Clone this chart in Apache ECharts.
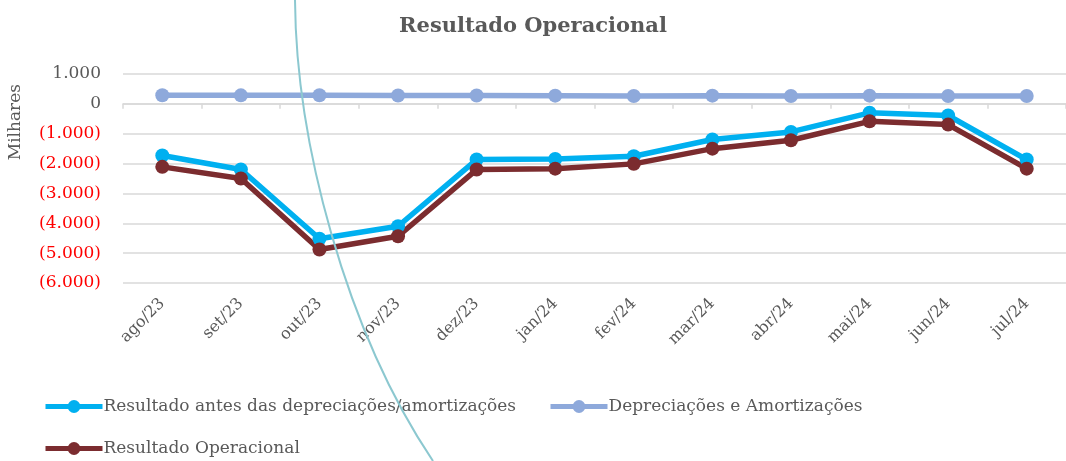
<!DOCTYPE html>
<html>
<head>
<meta charset="utf-8">
<script src="https://cdn.jsdelivr.net/npm/echarts@6/dist/echarts.min.js"></script>
<style>
html,body{margin:0;padding:0;background:#fff;}
#chart{width:1066px;height:461px;}
</style>
</head>
<body>
<div id="chart"></div>
<script>
var categories = ['ago/23','set/23','out/23','nov/23','dez/23','jan/24','fev/24','mar/24','abr/24','mai/24','jun/24','jul/24'];
var antesDepreciacoes = [-1730, -2200, -4520, -4100, -1865, -1845, -1755, -1195, -940, -300, -390, -1865];
var depreciacoes = [290, 285, 290, 280, 280, 275, 265, 275, 265, 275, 265, 265];
var resultadoOperacional = [-2110, -2500, -4880, -4435, -2200, -2170, -2010, -1500, -1220, -585, -695, -2170];
var yTicks = {min: -6000, max: 1000, interval: 1000};

var names = ['Resultado antes das depreciações/amortizações', 'Depreciações e Amortizações', 'Resultado Operacional'];
var colors = ['#00B0F0', '#8EA9DB', '#7B2C2F'];
var serifFont = '"DejaVu Serif", "Liberation Serif", serif';
var gray = '#595959';

function fmt(v) {
  var a = Math.abs(v);
  var s = String(a).replace(/\B(?=(\d{3})+(?!\d))/g, '.');
  if (v < 0) return '{neg|(' + s + ')}';
  return '{pos|' + s + '}';
}

var chart = echarts.init(document.getElementById('chart'), null, {renderer: 'canvas'});

function legendCfg(left, top, idxs) {
  return {
    left: left, top: top, orient: 'horizontal',
    itemWidth: 57, itemHeight: 16, itemGap: 4,
    lineStyle: {width: 5},
    textStyle: {fontFamily: serifFont, fontSize: 17, color: gray, padding: [0, 0, 0, -4]},
    data: idxs.map(function (i) { return names[i]; })
  };
}

var option = {
  animation: false,
  backgroundColor: '#ffffff',
  title: {
    text: 'Resultado Operacional',
    left: 'center', top: 11,
    textStyle: {fontFamily: serifFont, fontSize: 21, fontWeight: 'bold', color: gray}
  },
  legend: [
    legendCfg(38, 393, [0]),
    legendCfg(543, 393, [1]),
    legendCfg(38, 435, [2])
  ],
  grid: {left: 123, right: -9, top: 74, bottom: 178, containLabel: false},
  xAxis: [
    {
      type: 'category', data: categories, position: 'bottom',
      boundaryGap: true,
      axisLine: {show: false, onZero: false},
      axisTick: {show: false},
      axisLabel: {rotate: 45, margin: 18, fontFamily: serifFont, fontSize: 16, color: gray, interval: 0},
      splitLine: {show: false}
    },
    {
      type: 'category', data: categories, position: 'bottom',
      boundaryGap: true,
      axisLine: {show: true, onZero: true, lineStyle: {color: '#d9d9d9', width: 1.5}},
      axisTick: {show: true, length: 5, interval: 0, lineStyle: {color: '#d9d9d9', width: 1.5}},
      axisLabel: {show: false},
      splitLine: {show: false}
    }
  ],
  yAxis: {
    type: 'value', min: yTicks.min, max: yTicks.max, interval: yTicks.interval,
    axisLine: {show: false}, axisTick: {show: false},
    splitLine: {show: true, lineStyle: {color: '#d9d9d9', width: 1.5}},
    axisLabel: {
      margin: 22,
      formatter: fmt,
      rich: {
        neg: {color: '#FF0000', fontFamily: serifFont, fontSize: 17},
        pos: {color: gray, fontFamily: serifFont, fontSize: 17}
      }
    }
  },
  graphic: [
    {
      type: 'text', left: 7, top: 84, rotation: Math.PI / 2,
      style: {text: 'Milhares', fontFamily: serifFont, fontSize: 17, fill: gray}
    },
    {
      type: 'bezierCurve', silent: true, z: 100,
      shape: {x1: 295, y1: 0, cpx1: 296, cpy1: 140, cpx2: 345, cpy2: 330, x2: 433, y2: 461},
      style: {stroke: '#8cc8d0', lineWidth: 2, fill: null}
    }
  ],
  series: [
    {name: names[0], type: 'line', xAxisIndex: 0, data: antesDepreciacoes, color: colors[0],
     symbol: 'circle', symbolSize: 14, lineStyle: {width: 5.5}},
    {name: names[1], type: 'line', xAxisIndex: 0, data: depreciacoes, color: colors[1],
     symbol: 'circle', symbolSize: 14, lineStyle: {width: 5.5}},
    {name: names[2], type: 'line', xAxisIndex: 0, data: resultadoOperacional, color: colors[2],
     symbol: 'circle', symbolSize: 14, lineStyle: {width: 5.5}}
  ]
};
chart.setOption(option);
</script>
</body>
</html>
